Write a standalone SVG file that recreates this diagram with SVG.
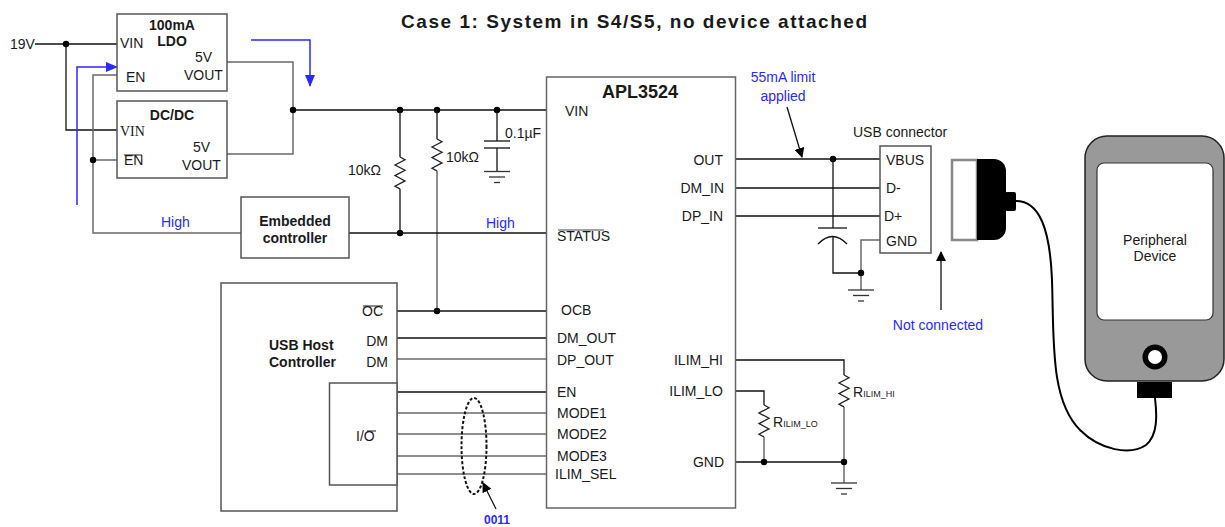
<svg xmlns="http://www.w3.org/2000/svg" width="1225" height="527" viewBox="0 0 1225 527">
<style>
text{font-family:"Liberation Sans",Arial,sans-serif;font-size:14px;fill:#1a1a1a}
.b{font-weight:bold}
.blue{fill:#2a2aff}
.m{text-anchor:middle}
.e{text-anchor:end}
.w{stroke:#111;stroke-width:1.3;fill:none}
.g{stroke:#6a6a6a;stroke-width:1.5;fill:none}
.box{fill:#fff;stroke:#555;stroke-width:1.5}
.bl{stroke:#2a2aff;stroke-width:1.5;fill:none}
.dot{fill:#000}
.sub{font-size:9px}
</style>
<defs>
<marker id="ab" markerWidth="10" markerHeight="10" refX="9" refY="5" orient="auto" markerUnits="userSpaceOnUse"><path d="M0,0 L10,5 L0,10 z" fill="#000"/></marker>
<marker id="au" markerWidth="12" markerHeight="12" refX="11" refY="6" orient="auto" markerUnits="userSpaceOnUse"><path d="M0,1 L12,6 L0,11 z" fill="#2a2aff"/></marker>
<path id="res" d="M0,0 l5,2.7 l-10,5.3 l10,5.3 l-10,5.3 l10,5.3 l-10,5.3 l5,2.7" stroke="#222" stroke-width="1.3" fill="none"/>
<g id="gnd" stroke="#333" stroke-width="1.3"><line x1="-13" y1="0" x2="13" y2="0"/><line x1="-8" y1="5.5" x2="8" y2="5.5"/><line x1="-3" y1="11" x2="3" y2="11"/></g>
</defs>

<text class="b m" x="634" y="28" style="font-size:19px" textLength="466" lengthAdjust="spacing">Case 1: System in S4/S5, no device attached</text>

<g id="connectors">
<polyline class="w" points="35,44 117,44"/>
<polyline class="w" points="66,44 66,130 117,130"/>
<circle class="dot" cx="66" cy="44" r="3.2"/>
<polyline class="g" points="117,75 93,75 93,233 241,233"/>
<polyline class="g" points="93,160 117,160"/>
<circle class="dot" cx="93" cy="160" r="3.2"/>
<polyline class="g" points="227,62 293,62 293,154 227,154"/>
<polyline class="w" points="293,110 546,110"/>
<circle class="dot" cx="293" cy="110" r="3.2"/>
<circle class="dot" cx="400" cy="110" r="3.2"/>
<circle class="dot" cx="437" cy="110" r="3.2"/>
<circle class="dot" cx="497" cy="110" r="3.2"/>
<polyline class="w" points="400,110 400,157"/>
<use href="#res" x="400" y="157"/>
<polyline class="w" points="400,189 400,233"/>
<circle class="dot" cx="400" cy="233" r="3.2"/>
<polyline class="w" points="437,110 437,139"/>
<use href="#res" x="437" y="139"/>
<polyline class="g" points="437,171 437,311"/>
<circle class="dot" cx="437" cy="311" r="3.2"/>
<polyline class="w" points="497,110 497,141"/>
<line class="w" x1="484" y1="141" x2="510" y2="141"/>
<line class="w" x1="484" y1="148" x2="510" y2="148"/>
<polyline class="w" points="497,148 497,171.5"/>
<use href="#gnd" x="497" y="171.5"/>
<polyline class="w" points="349,233 546,233"/>
<polyline class="w" points="397,311 546,311"/>
<polyline class="w" points="397,338 546,338"/>
<polyline class="g" points="397,359 546,359"/>
<polyline class="w" points="397,392 546,392"/>
<polyline class="g" points="397,413 546,413"/>
<polyline class="g" points="397,434 546,434"/>
<polyline class="g" points="397,456 546,456"/>
<polyline class="g" points="397,474 546,474"/>
<polyline class="w" points="736,159 880,159"/>
<polyline class="w" points="736,188 880,188"/>
<polyline class="w" points="736,216 880,216"/>
<circle class="dot" cx="833" cy="159" r="3.2"/>
<polyline class="w" points="833,159 833,228"/>
<line class="w" x1="818" y1="228" x2="847" y2="228"/>
<path class="w" d="M818,244 Q832.5,229 847,244"/>
<polyline class="w" points="833,237 833,273 861,273"/>
<polyline class="g" points="880,240 861,240 861,290"/>
<circle class="dot" cx="861" cy="273" r="3.2"/>
<use href="#gnd" x="861" y="290"/>
<polyline class="w" points="736,360 844,360 844,375"/>
<use href="#res" x="844" y="375"/>
<polyline class="g" points="844,407 844,483"/>
<polyline class="w" points="736,391 764,391 764,405"/>
<use href="#res" x="764" y="405"/>
<polyline class="g" points="764,437 764,462"/>
<polyline class="w" points="736,462 844,462"/>
<circle class="dot" cx="764" cy="462" r="3.2"/>
<circle class="dot" cx="844" cy="462" r="3.2"/>
<use href="#gnd" x="844" y="483"/>
<polyline class="bl" points="77,205 77,67 117,67" marker-end="url(#au)"/>
<polyline class="bl" points="251,40 310,40 310,86" marker-end="url(#au)"/>
<line class="w" x1="787" y1="107" x2="802" y2="157" marker-end="url(#ab)"/>
<line class="w" x1="941" y1="310" x2="941" y2="252" marker-end="url(#ab)"/>
<line class="w" x1="496" y1="509" x2="483" y2="483" marker-end="url(#ab)"/>
<path d="M1016,201 C1040,201 1050,230 1052,280 C1054,340 1050,400 1080,430 C1100,450 1130,456 1146,445 C1158,435 1157,415 1155,398" stroke="#000" stroke-width="2" fill="none"/>
</g>

<text x="10" y="49">19V</text>

<g id="ldo">
<rect class="box" x="117" y="14" width="110" height="77"/>
<text class="b m" x="172" y="30">100mA</text>
<text class="b m" x="172" y="46">LDO</text>
<text x="120" y="48">VIN</text>
<text x="126" y="82">EN</text>
<text x="195" y="62">5V</text>
<text x="184" y="80">VOUT</text>
</g>

<g id="dcdc">
<rect class="box" x="117" y="101" width="110" height="77"/>
<text class="b m" x="172" y="120">DC/DC</text>
<text x="120" y="136" style="font-family:'Liberation Serif',serif">VIN</text>
<text x="124" y="165">EN</text>
<line x1="124" y1="155" x2="142" y2="155" stroke="#1a1a1a" stroke-width="1"/>
<text x="193" y="152">5V</text>
<text x="182" y="170">VOUT</text>
</g>

<g id="labels">
<text class="blue" x="161" y="227">High</text>
<text class="blue" x="486" y="228">High</text>
<text x="348" y="175">10kΩ</text>
<text x="446" y="162">10kΩ</text>
<text x="505" y="138">0.1µF</text>
<text class="blue m" x="783" y="82">55mA limit</text>
<text class="blue m" x="783" y="101">applied</text>
<text class="blue m" x="938" y="330">Not connected</text>
<text class="b blue m" x="497" y="524" style="font-size:12px">0011</text>
<text x="773" y="427">R<tspan class="sub">ILIM_LO</tspan></text>
<text x="853" y="397">R<tspan class="sub">ILIM_HI</tspan></text>
</g>

<g id="embedded">
<rect class="box" x="241" y="197" width="108" height="61"/>
<text class="b m" x="295" y="226">Embedded</text>
<text class="b m" x="295" y="243">controller</text>
</g>

<g id="apl3524">
<rect x="546.5" y="77" width="189" height="431" fill="#fff" stroke="#666" stroke-width="1.5"/>
<text class="b m" x="640" y="98" style="font-size:18px">APL3524</text>
<text x="565" y="116">VIN</text>
<text x="557" y="241">STATUS</text>
<line x1="558" y1="230" x2="604" y2="230" stroke="#1a1a1a" stroke-width="0.8"/>
<text x="561" y="315">OCB</text>
<text x="557" y="343">DM_OUT</text>
<text x="557" y="365">DP_OUT</text>
<text x="557" y="397">EN</text>
<text x="557" y="418">MODE1</text>
<text x="557" y="439">MODE2</text>
<text x="557" y="461">MODE3</text>
<text x="555" y="479">ILIM_SEL</text>
<text class="e" x="723" y="165">OUT</text>
<text class="e" x="724" y="193">DM_IN</text>
<text class="e" x="723" y="221">DP_IN</text>
<text class="e" x="723" y="365">ILIM_HI</text>
<text class="e" x="723" y="396">ILIM_LO</text>
<text class="e" x="724" y="467">GND</text>
</g>

<g id="usb-host">
<rect class="box" x="221" y="283" width="176" height="228"/>
<rect class="box" x="329.5" y="383" width="67.5" height="102"/>
<text class="b" x="269" y="350">USB Host</text>
<text class="b" x="269" y="367">Controller</text>
<text class="e" x="383" y="316">OC</text>
<line x1="363" y1="306" x2="383" y2="306" stroke="#1a1a1a" stroke-width="1"/>
<text class="e" x="388" y="346">DM</text>
<text class="e" x="388" y="367">DM</text>
<text x="356" y="441">I/O</text>
<line x1="367" y1="431" x2="376" y2="431" stroke="#1a1a1a" stroke-width="1"/>
<ellipse cx="474" cy="446" rx="12.5" ry="48" fill="none" stroke="#111" stroke-width="2" stroke-dasharray="3,2"/>
</g>

<g id="usb-connector">
<text x="853" y="137">USB connector</text>
<rect x="880" y="146" width="51" height="107" fill="#fff" stroke="#555" stroke-width="1.5"/>
<text x="886" y="165">VBUS</text>
<text x="886" y="193">D-</text>
<text x="884" y="221">D+</text>
<text x="886" y="246">GND</text>
</g>

<g id="plug">
<rect x="952" y="160" width="25" height="80" fill="#fff" stroke="#888" stroke-width="2.5"/>
<path d="M977,159 h17 a12,12 0 0 1 12,12 v57 a12,12 0 0 1 -12,12 h-17 z" fill="#000"/>
<rect x="1005" y="192" width="11" height="19" rx="2" fill="#000"/>
</g>

<g id="peripheral">
<rect x="1085" y="136" width="139" height="245" rx="22" fill="#999" stroke="#222" stroke-width="1.5"/>
<rect x="1097" y="163" width="116" height="157" rx="7" fill="#fff" stroke="#333" stroke-width="1.2"/>
<text class="m" x="1155" y="245">Peripheral</text>
<text class="m" x="1155" y="261">Device</text>
<circle cx="1155" cy="357" r="12.5" fill="#000"/>
<circle cx="1155" cy="357" r="7" fill="#fff"/>
<rect x="1137" y="382" width="35" height="16" fill="#000"/>
</g>
</svg>
